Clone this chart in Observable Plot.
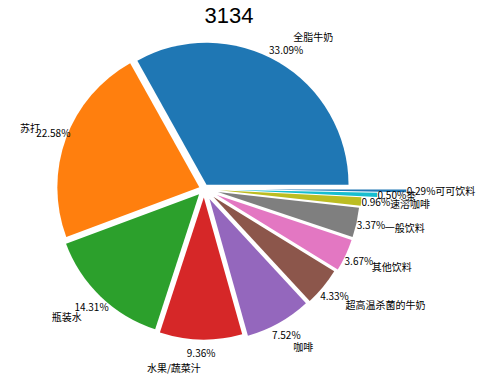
<!DOCTYPE html>
<html><head><meta charset="utf-8">
<script src="https://cdn.jsdelivr.net/npm/d3@7"></script>
<script src="https://cdn.jsdelivr.net/npm/@observablehq/plot@0.6"></script>
<style>
body{margin:0;background:#fff;}
#title{width:458px;height:30px;line-height:31px;text-align:center;font-family:"Liberation Sans",Arial,sans-serif;font-size:22px;font-weight:normal;color:#000;}
</style></head><body>
<div id="title">3134</div>
<div id="chart"></div>
<script>
const categories = ["全脂牛奶","苏打","瓶装水","水果/蔬菜汁","咖啡","超高温杀菌的牛奶","其他饮料","一般饮料","速溶咖啡","茶","可可饮料"];
const shares = [33.09,22.58,14.31,9.36,7.52,4.33,3.67,3.37,0.96,0.50,0.29];
const pctLabels = ["33.09%","22.58%","14.31%","9.36%","7.52%","4.33%","3.67%","3.37%","0.96%","0.50%","0.29%"];
const explode = [0.035,0.035,0.05,0.06,0.08,0.085,0.1,0.1,0.11,0.22,0.425];
const colors = ["#1f77b4","#ff7f0e","#2ca02c","#d62728","#9467bd","#8c564b","#e377c2","#7f7f7f","#bcbd22","#17becf","#1f77b4"];

const W = 481, H = 350, CX = 204, CY = 159, R = 142;
const total = d3.sum(shares);
let cum = 0;
const slices = shares.map((v, i) => {
  const t0 = cum / total * 2 * Math.PI; cum += v;
  const t1 = cum / total * 2 * Math.PI;
  const m = (t0 + t1) / 2;
  const c = Math.cos(m), s = Math.sin(m);
  const ox = explode[i] * c, oy = explode[i] * s;
  return {name: categories[i], pct: pctLabels[i], color: colors[i], t0, t1, ox, oy,
    lx: ox + 1.2 * c, ly: oy + 1.2 * s, px: ox + 1.1 * c, py: oy + 1.1 * s, right: c > 0};
});

const wedges = (index, scales, values, dimensions) => {
  const g = d3.create("svg:g");
  const r = scales.x(1) - scales.x(0);
  const arc = d3.arc().innerRadius(0).outerRadius(r);
  for (const d of slices) {
    g.append("path")
      .attr("transform", `translate(${scales.x(d.ox)},${scales.y(d.oy)})`)
      .attr("d", arc({startAngle: Math.PI / 2 - d.t1, endAngle: Math.PI / 2 - d.t0}))
      .attr("fill", d.color);
  }
  return g.node();
};

const font = '"Noto Sans CJK SC", sans-serif';
const chart = Plot.plot({
  width: W, height: H, margin: 0,
  style: {background: "#fff", fontFamily: font},
  x: {domain: [-CX / R, (W - CX) / R], range: [0, W], axis: null},
  y: {domain: [-(H - CY) / R, CY / R], range: [H, 0], axis: null},
  marks: [
    wedges,
    Plot.text(slices, {x: "px", y: "py", text: "pct", fontSize: 10, fill: "#000", textAnchor: "middle"}),
    Plot.text(slices.filter(d => d.right), {x: "lx", y: "ly", text: "name", fontSize: 10, fill: "#000", textAnchor: "start"}),
    Plot.text(slices.filter(d => !d.right), {x: "lx", y: "ly", text: "name", fontSize: 10, fill: "#000", textAnchor: "end"})
  ]
});
document.getElementById("chart").appendChild(chart);
</script></body></html>
